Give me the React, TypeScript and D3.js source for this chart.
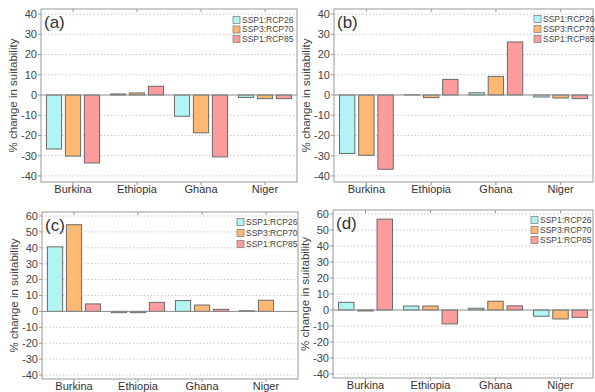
import React, { useRef, useEffect } from "react";
import * as d3 from "d3";

const countries = ["Burkina", "Ethiopia", "Ghana", "Niger"];
const scenarios = ["SSP1:RCP26", "SSP3:RCP70", "SSP1:RCP85"];
const colors = ["#b2f3f3", "#fdb873", "#fc9c9c"];

// values per country, in scenario order
const panelA = [
    [-26.7, -30.2, -33.6],
    [0.5, 1.0, 4.3],
    [-10.5, -18.7, -30.6],
    [-1.2, -1.8, -1.8],
];
const panelB = [
    [-28.9, -29.8, -36.7],
    [0.1, -1.3, 7.7],
    [1.1, 9.2, 26.2],
    [-1.0, -1.5, -1.8],
];
const panelC = [
    [40.6, 54.5, 4.7],
    [-0.8, -0.8, 5.7],
    [6.8, 4.0, 1.3],
    [0.4, 7.0, 0],
];
const panelD = [
    [4.8, -0.6, 56.8],
    [2.5, 2.5, -8.7],
    [1.1, 5.5, 2.6],
    [-3.9, -5.6, -4.6],
];

const ticksTop = [-40, -30, -20, -10, 0, 10, 20, 30, 40];
const ticksBottom = [-40, -30, -20, -10, 0, 10, 20, 30, 40, 50, 60];

const App = () => {
    const ref = useRef<SVGSVGElement | null>(null);

    useEffect(() => {
        const svg = d3.select(ref.current);
        svg.selectAll("*").remove();
        const font = "'Liberation Sans', Arial, sans-serif";

        const panels = [
            { label: "(a)", data: panelA, x0: 41, x1: 297, y0: 9, y1: 182, dom: [-43, 42.5], ticks: ticksTop, lx: 233, ly: 20, ls: 9.5 },
            { label: "(b)", data: panelB, x0: 334, x1: 593, y0: 9, y1: 182, dom: [-43, 42.5], ticks: ticksTop, lx: 534, ly: 19, ls: 10 },
            { label: "(c)", data: panelC, x0: 42, x1: 298, y0: 212, y1: 379, dom: [-42.5, 62.5], ticks: ticksBottom, lx: 237, ly: 222, ls: 11 },
            { label: "(d)", data: panelD, x0: 333, x1: 593, y0: 210, y1: 378, dom: [-42.5, 62.5], ticks: ticksBottom, lx: 531, ly: 220, ls: 10 },
        ];

        panels.forEach((p) => {
            const g = svg.append("g");
            const x = d3.scaleBand().domain(countries).range([p.x0, p.x1]).paddingInner(0.17).paddingOuter(0.085);
            const xs = d3.scaleBand().domain(scenarios).range([0, x.bandwidth()]).paddingInner(0.2);
            const y = d3.scaleLinear().domain(p.dom).range([p.y1, p.y0]);

            // grid
            g.selectAll(".grid")
                .data(p.ticks.filter((t) => t !== 0))
                .enter()
                .append("line")
                .attr("x1", p.x0)
                .attr("x2", p.x1)
                .attr("y1", (d) => y(d))
                .attr("y2", (d) => y(d))
                .attr("stroke", "#c8c8c8")
                .attr("stroke-dasharray", "1.5,2");

            // bars
            p.data.forEach((vals, i) => {
                g.selectAll(null)
                    .data(vals)
                    .enter()
                    .append("rect")
                    .attr("x", (_, j) => x(countries[i])! + xs(scenarios[j])!)
                    .attr("width", xs.bandwidth())
                    .attr("y", (d) => y(Math.max(0, d)))
                    .attr("height", (d) => Math.abs(y(d) - y(0)))
                    .attr("fill", (_, j) => colors[j])
                    .attr("stroke", "#6a6a6a")
                    .attr("stroke-width", 1);
            });

            // zero line
            g.append("line")
                .attr("x1", p.x0)
                .attr("x2", p.x1)
                .attr("y1", y(0))
                .attr("y2", y(0))
                .attr("stroke", "#8a8a8a");

            // frame
            g.append("rect")
                .attr("x", p.x0)
                .attr("y", p.y0)
                .attr("width", p.x1 - p.x0)
                .attr("height", p.y1 - p.y0)
                .attr("fill", "none")
                .attr("stroke", "#999");

            // y ticks + labels
            p.ticks.forEach((t) => {
                g.append("line")
                    .attr("x1", p.x0 - 3)
                    .attr("x2", p.x0)
                    .attr("y1", y(t))
                    .attr("y2", y(t))
                    .attr("stroke", "#999");
                g.append("text")
                    .attr("x", p.x0 - 4)
                    .attr("y", y(t))
                    .attr("dy", "0.35em")
                    .attr("text-anchor", "end")
                    .attr("font-family", font)
                    .attr("font-size", 11)
                    .attr("fill", "#444")
                    .text(t);
            });

            // x ticks + labels
            countries.forEach((c) => {
                const cx = x(c)! + x.bandwidth() / 2;
                g.append("line").attr("x1", cx).attr("x2", cx).attr("y1", p.y0).attr("y2", p.y0 + 3).attr("stroke", "#999");
                g.append("line").attr("x1", cx).attr("x2", cx).attr("y1", p.y1).attr("y2", p.y1 + 3).attr("stroke", "#999");
                g.append("text")
                    .attr("x", cx)
                    .attr("y", p.y1 + 11)
                    .attr("text-anchor", "middle")
                    .attr("font-family", font)
                    .attr("font-size", 11)
                    .attr("fill", "#333")
                    .text(c);
            });

            // axis title
            g.append("text")
                .attr("transform", `translate(${p.x0 - 28},${(p.y0 + p.y1) / 2}) rotate(-90)`)
                .attr("text-anchor", "middle")
                .attr("dy", "0.35em")
                .attr("font-family", font)
                .attr("font-size", 11.5)
                .attr("fill", "#444")
                .text("% change in suitability");

            // panel label
            g.append("text")
                .attr("x", p.x0 + 3)
                .attr("y", p.y0 + 19)
                .attr("font-family", font)
                .attr("font-size", 17)
                .attr("fill", "#333")
                .text(p.label);

            // legend
            scenarios.forEach((s, j) => {
                g.append("rect")
                    .attr("x", p.lx)
                    .attr("y", p.ly + j * p.ls - 3.5)
                    .attr("width", 7)
                    .attr("height", 7)
                    .attr("fill", colors[j])
                    .attr("stroke", "#777")
                    .attr("stroke-width", 0.7);
                g.append("text")
                    .attr("x", p.lx + 9)
                    .attr("y", p.ly + j * p.ls)
                    .attr("dy", "0.35em")
                    .attr("font-family", font)
                    .attr("font-size", 8.5)
                    .attr("fill", "#444")
                    .text(s);
            });
        });
    }, []);

    return (
        <svg
            ref={ref}
            width={595}
            height={392}
            style={{ position: "absolute", left: 0, top: 0, background: "#fff" }}
        />
    );
};

export default App;
